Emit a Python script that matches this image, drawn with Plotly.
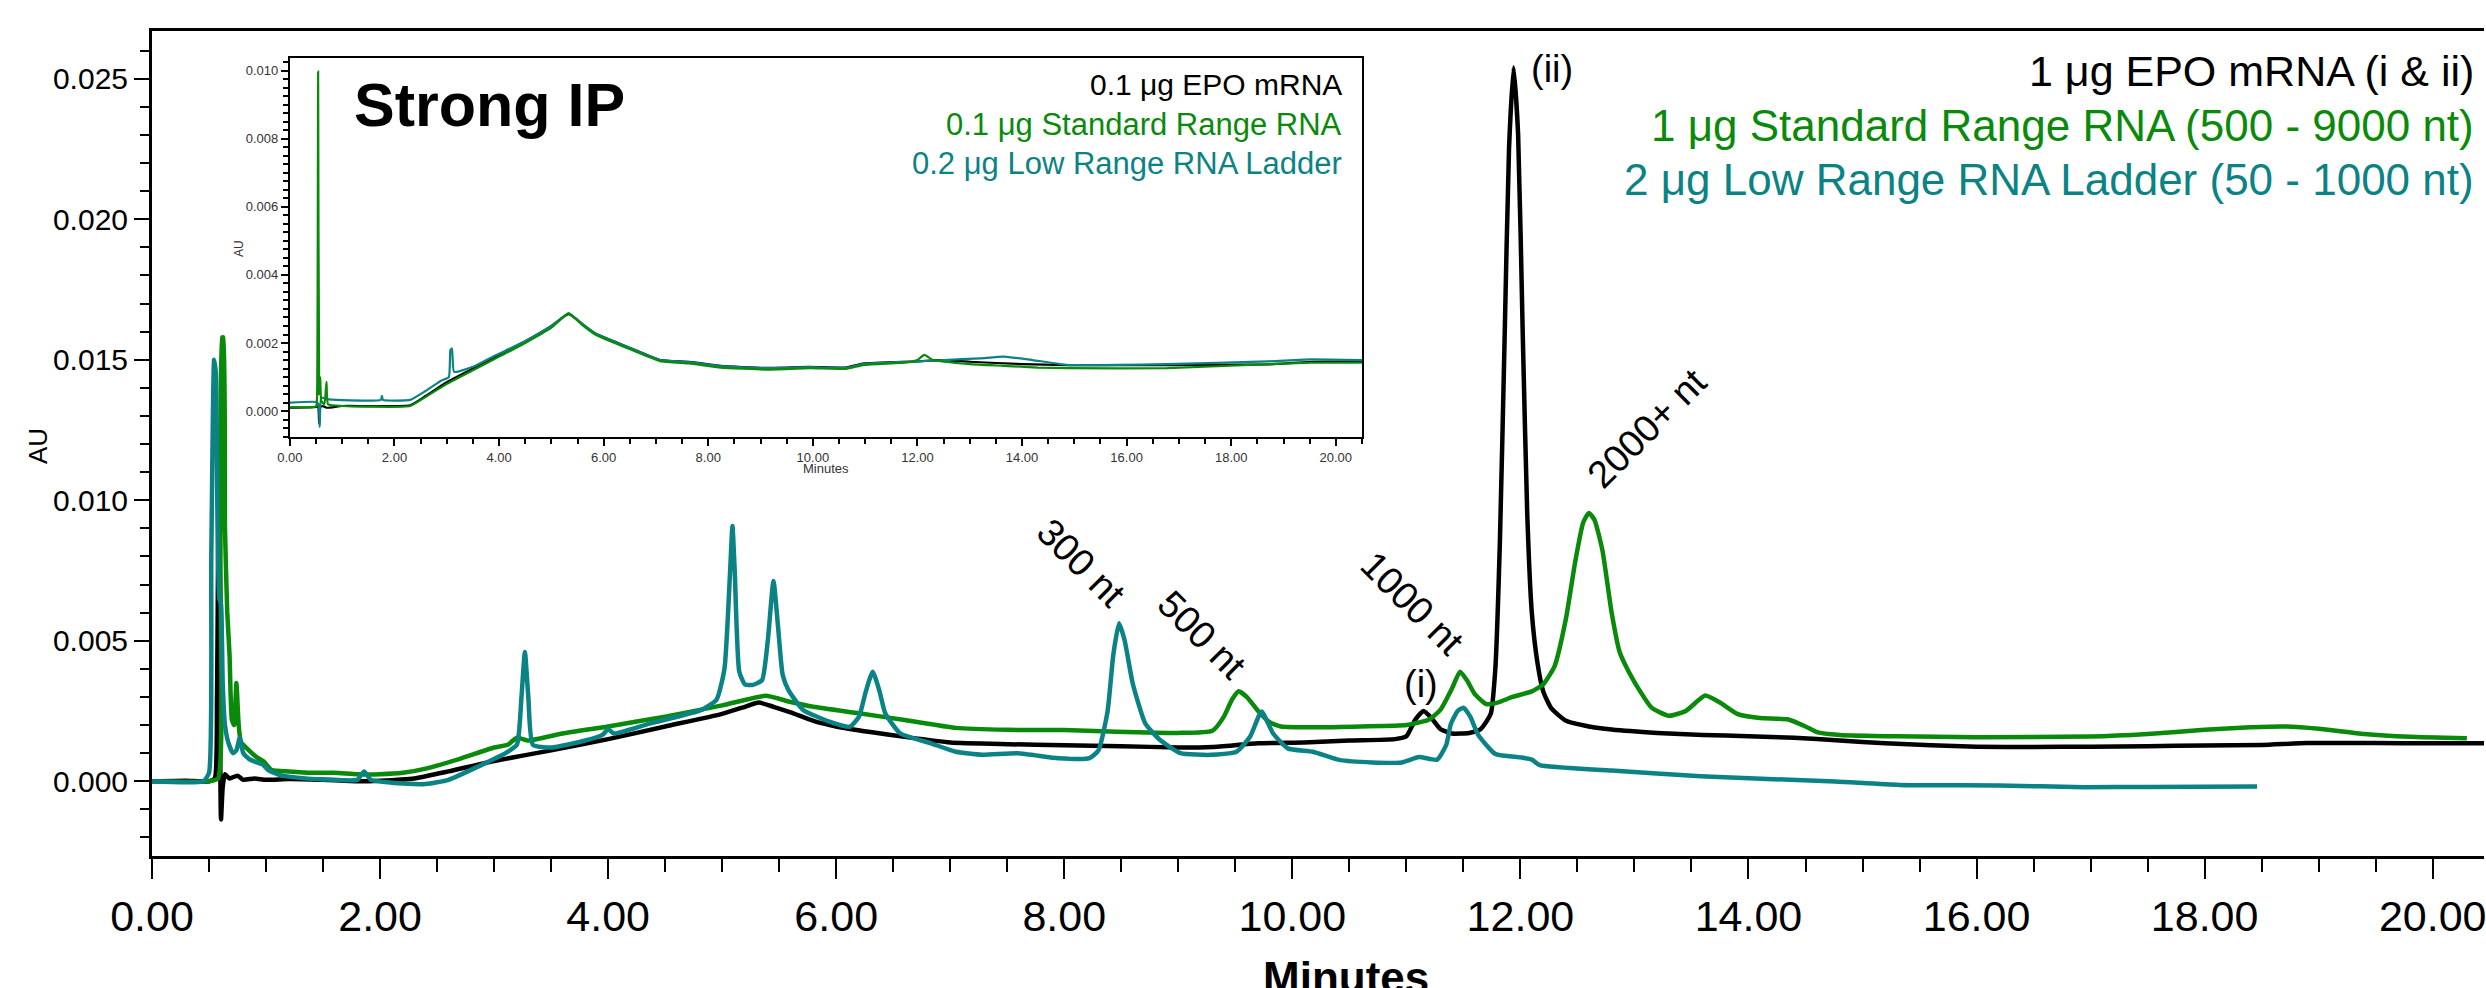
import plotly.graph_objects as go

# ---------------- main chromatogram (1 / 1 / 2 ug loads) ----------------
epo_t = [0.0, 0.3, 0.5, 0.55, 0.57, 0.585, 0.595, 0.605, 0.62, 0.64, 0.68, 0.75, 0.8, 0.9,
         1.0, 1.2, 1.5, 1.8, 2.0, 2.3, 2.6, 3.0, 3.5, 4.0, 4.5, 5.0, 5.2, 5.32, 5.45, 5.6,
         5.8, 6.0, 6.3, 6.6, 7.0, 7.5, 8.0, 8.5, 9.0, 9.3, 9.7, 10.1, 10.5, 10.9, 11.0,
         11.08, 11.15, 11.22, 11.3, 11.4, 11.55, 11.65, 11.74, 11.78, 11.82, 11.86, 11.9,
         11.94, 11.98, 12.02, 12.06, 12.1, 12.15, 12.2, 12.27, 12.4, 12.6, 12.8, 13.2, 13.6,
         14.0, 14.4, 14.8, 15.2, 15.6, 16.0, 16.5, 17.0, 17.5, 18.0, 18.5, 18.9, 19.5, 20.0,
         20.45]
epo_au = [0.0, 0.00002, 0.0, 0.0001, 0.003, 0.011, 0.003, -0.00136, -0.0002, 0.00025, 0.0001,
          0.0002, 0.00005, 0.0001, 0.00005, 0.00008, 0.00005, 0.0, 0.00002, 0.0001, 0.00035,
          0.00072, 0.0011, 0.0015, 0.00195, 0.0024, 0.00265, 0.0028, 0.00265, 0.00245, 0.00215,
          0.00195, 0.00175, 0.00158, 0.00138, 0.00132, 0.00128, 0.00125, 0.0012, 0.00122,
          0.00135, 0.00138, 0.00145, 0.0015, 0.0016, 0.0022, 0.0025, 0.00225, 0.00185, 0.0017,
          0.00172, 0.00185, 0.0024, 0.004, 0.0085, 0.0155, 0.0225, 0.0254, 0.023, 0.016,
          0.0095, 0.006, 0.0042, 0.0032, 0.0026, 0.00215, 0.00195, 0.00184, 0.00172, 0.00165,
          0.0016, 0.00155, 0.00145, 0.00135, 0.00128, 0.00123, 0.00122, 0.00123, 0.00125,
          0.00127, 0.00129, 0.00136, 0.00136, 0.00135, 0.00135]

std_t = [0.0, 0.5, 0.58, 0.6, 0.615, 0.625, 0.64, 0.66, 0.68, 0.7, 0.72, 0.74, 0.76, 0.78,
         0.85, 0.92, 0.98, 1.05, 1.2, 1.4, 1.6, 1.8, 2.0, 2.2, 2.4, 2.7, 3.0, 3.12, 3.2, 3.3,
         3.6, 4.0, 4.5, 5.0, 5.38, 5.6, 5.8, 6.2, 6.6, 7.05, 7.5, 8.0, 8.4, 9.0, 9.3, 9.4,
         9.47, 9.53, 9.6, 9.7, 9.8, 9.9, 10.2, 10.6, 11.0, 11.2, 11.3, 11.4, 11.47, 11.53,
         11.6, 11.7, 11.8, 11.93, 12.1, 12.2, 12.3, 12.4, 12.48, 12.55, 12.6, 12.65, 12.72,
         12.8, 12.87, 12.95, 13.05, 13.15, 13.3, 13.45, 13.62, 13.75, 13.9, 14.1, 14.35, 14.5,
         14.6, 14.8, 15.3, 16.0, 17.0, 17.5, 18.0, 18.4, 18.7, 19.0, 19.4, 19.8, 20.3]
std_au = [0.0, 0.0, 0.0001, 0.008, 0.0158, 0.0158, 0.009, 0.006, 0.0045, 0.0022, 0.002, 0.0035,
          0.002, 0.0014, 0.0011, 0.00085, 0.0007, 0.0004, 0.00035, 0.0003, 0.0003, 0.00025,
          0.00025, 0.0003, 0.00045, 0.0008, 0.0012, 0.0013, 0.00155, 0.00145, 0.0017, 0.00195,
          0.0023, 0.0027, 0.00304, 0.00282, 0.00265, 0.00242, 0.00218, 0.0019, 0.00183,
          0.00182, 0.00177, 0.00172, 0.0018, 0.0023, 0.0029, 0.0032, 0.003, 0.0025, 0.0021,
          0.00195, 0.00192, 0.00195, 0.002, 0.0022, 0.00255, 0.0033, 0.0039, 0.0036, 0.0031,
          0.00275, 0.0028, 0.003, 0.0032, 0.00345, 0.0041, 0.0058, 0.0078, 0.0092, 0.00955,
          0.0093, 0.0082, 0.006, 0.0046, 0.0039, 0.0032, 0.00262, 0.00233, 0.0025, 0.00305,
          0.0028, 0.0024, 0.00225, 0.0022, 0.00195, 0.00175, 0.00165, 0.0016, 0.00157,
          0.00159, 0.00168, 0.00183, 0.00192, 0.00195, 0.00187, 0.00168, 0.00158, 0.00153]

low_t = [0.0, 0.45, 0.5, 0.52, 0.545, 0.56, 0.575, 0.59, 0.605, 0.62, 0.64, 0.67, 0.71, 0.74,
         0.77, 0.8, 0.85, 0.92, 0.97, 1.02, 1.12, 1.3, 1.6, 1.8, 1.86, 1.92, 2.1, 2.4, 2.6,
         2.9, 3.1, 3.2, 3.24, 3.27, 3.3, 3.34, 3.5, 3.8, 3.95, 4.0, 4.05, 4.37, 4.82, 4.95,
         5.02, 5.07, 5.09, 5.11, 5.15, 5.2, 5.27, 5.35, 5.4, 5.45, 5.49, 5.53, 5.58, 5.71,
         5.94, 6.12, 6.2, 6.26, 6.32, 6.38, 6.43, 6.56, 6.83, 7.05, 7.28, 7.59, 7.95, 8.22,
         8.3, 8.38, 8.43, 8.48, 8.53, 8.6, 8.71, 8.84, 9.02, 9.29, 9.51, 9.63, 9.73, 9.83,
         9.96, 10.18, 10.41, 10.7, 10.96, 11.11, 11.27, 11.35, 11.39, 11.45, 11.5, 11.56,
         11.63, 11.78, 12.0, 12.1, 12.17, 12.8, 13.58, 14.76, 15.32, 16.19, 16.95, 17.5,
         18.46]
low_au = [0.0, 0.0, 0.0003, 0.008, 0.015, 0.0145, 0.009, 0.0065, 0.0063, 0.0035, 0.002,
          0.00137, 0.001, 0.0011, 0.00155, 0.001, 0.0008, 0.00067, 0.0006, 0.0004, 0.00022,
          0.00012, 0.00005, 0.00005, 0.00035, 0.00005, -0.00005, -0.0001, 0.00005, 0.0006,
          0.001, 0.0013, 0.003, 0.0046, 0.003, 0.0013, 0.0012, 0.00145, 0.00165, 0.00185,
          0.0017, 0.00206, 0.00254, 0.0029, 0.004, 0.0075, 0.00908, 0.0075, 0.0039, 0.00345,
          0.00343, 0.0036, 0.005, 0.00713, 0.0055, 0.0038, 0.00325, 0.00254, 0.00212, 0.00194,
          0.0023, 0.0032, 0.0039, 0.0032, 0.00242, 0.00171, 0.00135, 0.00105, 0.00094, 0.001,
          0.00082, 0.00082, 0.0011, 0.0025, 0.0045, 0.00562, 0.005, 0.00349, 0.00206, 0.00147,
          0.001, 0.00094, 0.00105, 0.00159, 0.00248, 0.00171, 0.00117, 0.00105, 0.00076,
          0.00067, 0.00067, 0.00086, 0.00077, 0.0013, 0.00204, 0.0025, 0.00262, 0.0023,
          0.00165, 0.00097, 0.00085, 0.00077, 0.00057, 0.00038, 0.00018, -0.00001, -0.00013,
          -0.00015, -0.00021, -0.0002, -0.00019]

# ---------------- inset chromatogram (0.1 / 0.1 / 0.2 ug loads) ----------------
epo_lo_t = [0.0, 0.5, 0.54, 0.56, 0.58, 0.62, 0.7, 1.0, 2.3, 2.6, 3.0, 3.5, 4.0, 4.5, 5.0,
            5.33, 5.6, 5.84, 6.2, 6.53, 7.08, 7.64, 8.24, 9.09, 9.95, 10.63, 10.98, 12.0,
            12.43, 13.0, 14.0, 14.86, 16.78, 18.7, 19.52, 20.5]
epo_lo_au = [0.0001, 0.00012, 0.00015, -0.00037, 0.0001, 0.00015, 0.0001, 0.00015, 0.00017,
             0.00045, 0.00085, 0.00125, 0.00165, 0.00205, 0.0025, 0.00285, 0.00255, 0.00228,
             0.00205, 0.00184, 0.0015, 0.00145, 0.00133, 0.00127, 0.0013, 0.00128, 0.0014,
             0.00146, 0.0015, 0.00145, 0.00138, 0.00135, 0.00135, 0.00137, 0.00145, 0.00145]

std_lo_t = [0.0, 0.5, 0.52, 0.54, 0.56, 0.58, 0.6, 0.66, 0.7, 0.73, 1.0, 2.3, 2.6, 3.0, 3.5,
            4.0, 4.5, 5.0, 5.33, 5.6, 5.84, 6.53, 7.08, 7.64, 8.24, 9.09, 9.95, 10.63, 10.98,
            11.8, 12.0, 12.13, 12.3, 13.0, 13.65, 14.3, 14.86, 16.78, 18.7, 19.52, 20.5]
std_lo_au = [0.00012, 0.00014, 0.0005, 0.00997, 0.0005, 0.001, 0.0003, 0.0002, 0.00086,
             0.0002, 0.00015, 0.00015, 0.00042, 0.0008, 0.0012, 0.0016, 0.002, 0.00245,
             0.00287, 0.00252, 0.00225, 0.0018, 0.00147, 0.0014, 0.00128, 0.00122, 0.00126,
             0.00124, 0.00136, 0.00143, 0.0015, 0.00165, 0.0015, 0.00138, 0.00133, 0.00128,
             0.00126, 0.00126, 0.00138, 0.00142, 0.00142]

low_lo_t = [0.0, 0.5, 0.55, 0.57, 0.6, 0.7, 1.0, 1.74, 1.76, 1.78, 2.3, 2.6, 2.9, 3.04, 3.07,
            3.1, 3.14, 3.5, 3.88, 4.5, 5.0, 5.33, 5.6, 5.84, 6.53, 7.08, 7.64, 8.24, 9.09,
            9.95, 10.63, 10.98, 12.0, 12.5, 13.2, 13.65, 14.2, 14.86, 16.78, 18.7, 19.52, 20.5]
low_lo_au = [0.00025, 0.00027, 0.0002, -0.00046, 0.0004, 0.00035, 0.00032, 0.00033, 0.00045,
             0.00033, 0.00033, 0.0006, 0.0009, 0.001, 0.0018, 0.00184, 0.00115, 0.0013,
             0.0016, 0.00205, 0.0025, 0.00287, 0.00255, 0.00228, 0.00184, 0.0015, 0.00144,
             0.00132, 0.00126, 0.00129, 0.00127, 0.00139, 0.00146, 0.0015, 0.00155, 0.0016,
             0.0015, 0.00136, 0.00138, 0.00146, 0.00152, 0.0015]

BLACK = "#000000"
GREEN = "#0a8a0a"
TEAL = "#0b8385"
FONT = "Liberation Sans, Arial, sans-serif"

fig = go.Figure()

# main traces
for t, au, col in [(epo_t, epo_au, BLACK), (std_t, std_au, GREEN), (low_t, low_au, TEAL)]:
    fig.add_trace(go.Scatter(x=t, y=au, mode="lines", xaxis="x", yaxis="y",
                             line=dict(color=col, width=4.5, shape="spline", smoothing=0.5),
                             showlegend=False, hoverinfo="skip"))

# inset traces
for t, au, col in [(epo_lo_t, epo_lo_au, BLACK), (low_lo_t, low_lo_au, TEAL),
                   (std_lo_t, std_lo_au, GREEN)]:
    fig.add_trace(go.Scatter(x=t, y=au, mode="lines", xaxis="x2", yaxis="y2",
                             line=dict(color=col, width=2.2, shape="spline", smoothing=0.4),
                             showlegend=False, hoverinfo="skip"))

W, H = 2486, 988
ML, MR, MT, MB = 152, 0, 31, 132
PW, PH = W - ML - MR, H - MT - MB


def px(xp):
    return (xp - ML) / PW


def py(yp):
    return (H - MB - yp) / PH


fig.update_layout(
    width=W, height=H,
    margin=dict(l=ML, r=MR, t=MT, b=MB),
    paper_bgcolor="white", plot_bgcolor="white",
    font=dict(family=FONT, color="black"),
    showlegend=False,
    xaxis=dict(range=[0, 20.45], tickmode="linear", tick0=0, dtick=2, tickformat=".2f",
               ticks="outside", ticklen=20, tickwidth=2, tickcolor="black",
               ticklabeloverflow="allow",
               showline=True, linewidth=3, linecolor="black", mirror=True,
               showgrid=False, zeroline=False, tickfont=dict(size=43),
               minor=dict(dtick=0.5, tick0=0, ticks="outside", ticklen=13, tickwidth=2,
                          tickcolor="black", showgrid=False)),
    yaxis=dict(range=[-0.00266, 0.0267], tickmode="linear", tick0=0, dtick=0.005,
               tickformat=".3f", ticks="outside", ticklen=15, tickwidth=2, tickcolor="black",
               showline=True, linewidth=3, linecolor="black",
               showgrid=False, zeroline=False, tickfont=dict(size=30),
               minor=dict(dtick=0.001, tick0=0, ticks="outside", ticklen=9, tickwidth=2,
                          tickcolor="black", showgrid=False)),
    xaxis2=dict(domain=[px(290), px(1363)], anchor="y2", range=[0, 20.5], tickmode="linear",
                tick0=0, dtick=2, tickformat=".2f", ticks="outside", ticklen=7, tickwidth=1.5,
                tickcolor="black", showline=True, linewidth=2, linecolor="black", mirror=True,
                showgrid=False, zeroline=False, tickfont=dict(size=13, color="#333333"),
                minor=dict(dtick=0.5, tick0=0, ticks="outside", ticklen=5, tickwidth=1.5,
                           tickcolor="black", showgrid=False)),
    yaxis2=dict(domain=[py(437), py(58)], anchor="x2", range=[-0.00076, 0.01037],
                tickmode="linear", tick0=0, dtick=0.002, tickformat=".3f", ticks="outside",
                ticklen=7, tickwidth=1.5, tickcolor="black", showline=True, linewidth=2,
                linecolor="black", mirror=True, showgrid=False, zeroline=False,
                tickfont=dict(size=13, color="#333333"),
                minor=dict(dtick=0.00025, tick0=0, ticks="outside", ticklen=5, tickwidth=1.5,
                           tickcolor="black", showgrid=False)),
)

ann = []

# axis titles
ann.append(dict(text="<b>Minutes</b>", xref="paper", yref="paper", x=px(1347), y=py(951),
                xanchor="center", yanchor="top", showarrow=False, font=dict(size=44)))
ann.append(dict(text="AU", xref="paper", yref="paper", x=px(38), y=py(446), textangle=-90,
                xanchor="center", yanchor="middle", showarrow=False, font=dict(size=26)))
ann.append(dict(text="Minutes", xref="paper", yref="paper", x=px(827), y=py(468),
                xanchor="center", yanchor="middle", showarrow=False,
                font=dict(size=13, color="#333333")))
ann.append(dict(text="AU", xref="paper", yref="paper", x=px(239), y=py(248), textangle=-90,
                xanchor="center", yanchor="middle", showarrow=False,
                font=dict(size=12, color="#333333")))

# sample descriptions, main chart
main_labels = [("1 \u03bcg EPO mRNA (i &amp; ii)", BLACK, 43, 71),
               ("1 \u03bcg Standard Range RNA (500 - 9000 nt)", GREEN, 44, 126),
               ("2 \u03bcg Low Range RNA Ladder (50 - 1000 nt)", TEAL, 44, 179)]
for txt, col, fs, yy in main_labels:
    ann.append(dict(text=txt, xref="paper", yref="paper", x=px(2478), y=py(yy),
                    xanchor="right", yanchor="middle", showarrow=False,
                    font=dict(size=fs, color=col)))

# sample descriptions, inset
inset_labels = [("0.1 \u03bcg EPO mRNA", BLACK, 30, 85),
                ("0.1 \u03bcg Standard Range RNA", GREEN, 31, 125),
                ("0.2 \u03bcg Low Range RNA Ladder", TEAL, 31, 163)]
for txt, col, fs, yy in inset_labels:
    ann.append(dict(text=txt, xref="paper", yref="paper", x=px(1345), y=py(yy),
                    xanchor="right", yanchor="middle", showarrow=False,
                    font=dict(size=fs, color=col)))

ann.append(dict(text="<b>Strong IP</b>", xref="paper", yref="paper", x=px(490), y=py(105),
                xanchor="center", yanchor="middle", showarrow=False, font=dict(size=61)))

# peak labels
peak_labels = [("300 nt", 8.15, 0.00777, 45), ("500 nt", 9.21, 0.00521, 45),
               ("1000 nt", 11.05, 0.00635, 45), ("2000+ nt", 13.11, 0.01258, -45),
               ("(i)", 11.13, 0.00346, 0), ("(ii)", 12.28, 0.02536, 0)]
for txt, xx, yy, ang in peak_labels:
    ann.append(dict(text=txt, xref="x", yref="y", x=xx, y=yy, textangle=ang,
                    xanchor="center", yanchor="middle", showarrow=False,
                    font=dict(size=38, color="black")))

fig.update_layout(annotations=ann)

fig.write_html("out.html", config={"displayModeBar": False})
